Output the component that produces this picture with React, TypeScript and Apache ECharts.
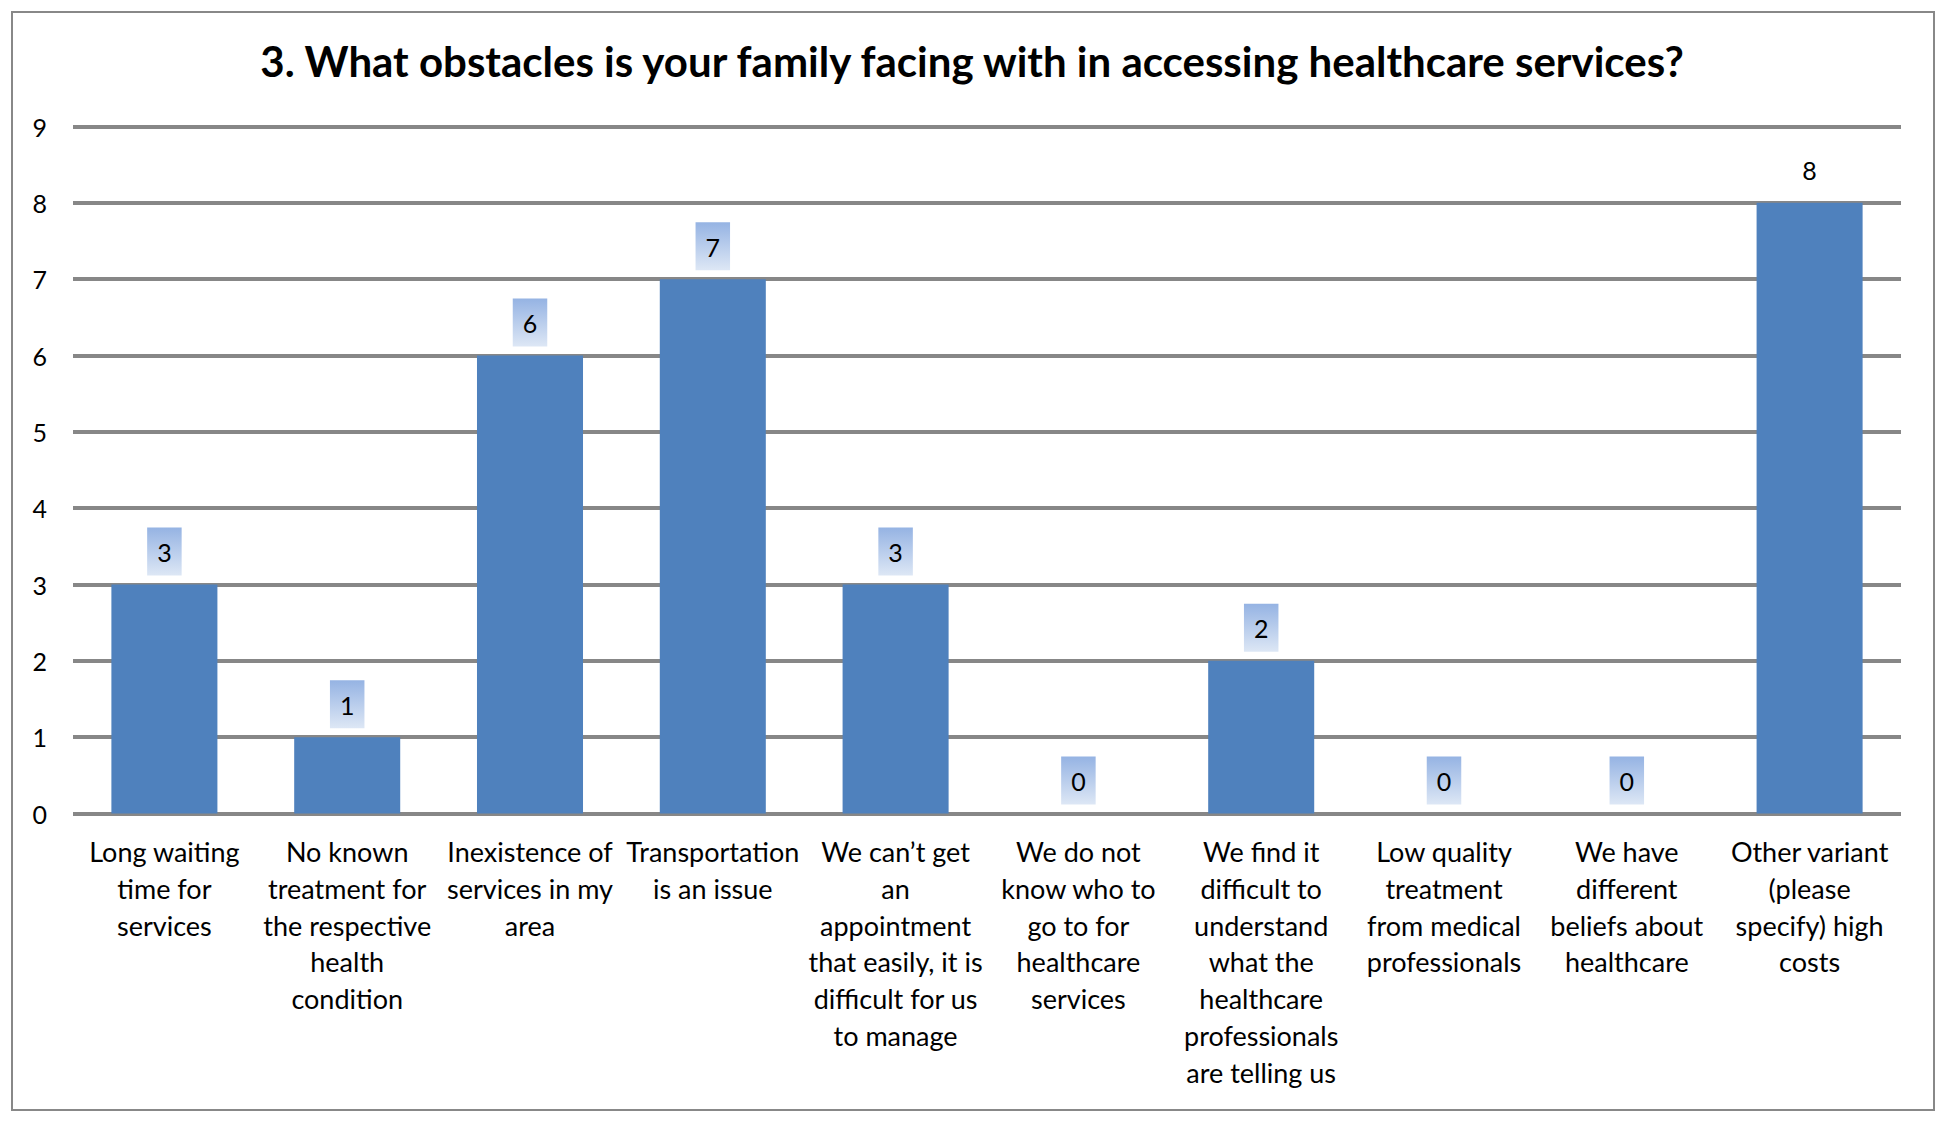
import React, { useEffect, useRef } from "react";
import * as echarts from "echarts";

const titleText = "3. What obstacles is your family facing with in accessing healthcare services?";

const categories = [
  "Long waiting\ntime for\nservices",
  "No known\ntreatment for\nthe respective\nhealth\ncondition",
  "Inexistence of\nservices in my\narea",
  "Transportation\nis an issue",
  "We can’t get\nan\nappointment\nthat easily, it is\ndifficult for us\nto manage",
  "We do not\nknow who to\ngo to for\nhealthcare\nservices",
  "We find it\ndifficult to\nunderstand\nwhat the\nhealthcare\nprofessionals\nare telling us",
  "Low quality\ntreatment\nfrom medical\nprofessionals",
  "We have\ndifferent\nbeliefs about\nhealthcare",
  "Other variant\n(please\nspecify) high\ncosts",
];

const values = [3, 1, 6, 7, 3, 0, 2, 0, 0, 8];

const yMin = 0;
const yMax = 9;
const yInterval = 1;

const FONT = "Lato, 'Open Sans', sans-serif";

export default function App() {
  const ref = useRef<HTMLDivElement>(null);

  useEffect(() => {
    document.body.style.margin = "0";
    if (!ref.current) return;
    const chart = echarts.init(ref.current, undefined, { renderer: "svg" });

    const boxLabel = {
      show: true,
      position: "top",
      distance: 9,
      fontFamily: FONT,
      fontSize: 25,
      color: "#000",
      lineHeight: 25,
      padding: [12, 10, 11, 10],
      backgroundColor: {
        type: "linear",
        x: 0,
        y: 0,
        x2: 0,
        y2: 1,
        colorStops: [
          { offset: 0, color: "#95B3E3" },
          { offset: 1, color: "#DDE7F5" },
        ],
      },
    };

    const data = values.map((v, i) =>
      i === values.length - 1
        ? { value: v, label: { backgroundColor: "transparent" } }
        : { value: v }
    );

    chart.setOption({
      animation: false,
      backgroundColor: "#fff",
      title: {
        text: titleText,
        left: "center",
        top: 31,
        textStyle: {
          fontFamily: FONT,
          fontWeight: "bold",
          fontSize: 42,
          lineHeight: 50,
          color: "#000",
        },
      },
      graphic: [
        {
          type: "rect",
          shape: { x: 12, y: 12, width: 1922, height: 1098 },
          style: { fill: "none", stroke: "#888888", lineWidth: 2 },
          z: -1,
        },
      ],
      grid: {
        left: 73,
        right: 43,
        top: 126.5,
        bottom: 308.5,
        containLabel: false,
      },
      xAxis: {
        type: "category",
        data: categories,
        axisLine: { show: false },
        axisTick: { show: false },
        axisLabel: {
          interval: 0,
          margin: 20,
          fontFamily: FONT,
          fontSize: 27,
          lineHeight: 36.7,
          color: "#000",
          align: "center",
        },
      },
      yAxis: {
        type: "value",
        min: yMin,
        max: yMax,
        interval: yInterval,
        axisLine: { show: false },
        axisTick: { show: false },
        axisLabel: {
          margin: 26,
          fontFamily: FONT,
          fontSize: 25,
          color: "#000",
        },
        splitLine: {
          show: true,
          lineStyle: { color: "#878787", width: 4 },
        },
      },
      series: [
        {
          type: "bar",
          data,
          barCategoryGap: "42%",
          itemStyle: { color: "#4F81BD" },
          label: boxLabel,
        },
      ],
    });

    return () => chart.dispose();
  }, []);

  return <div ref={ref} style={{ width: 1944, height: 1122 }} />;
}
